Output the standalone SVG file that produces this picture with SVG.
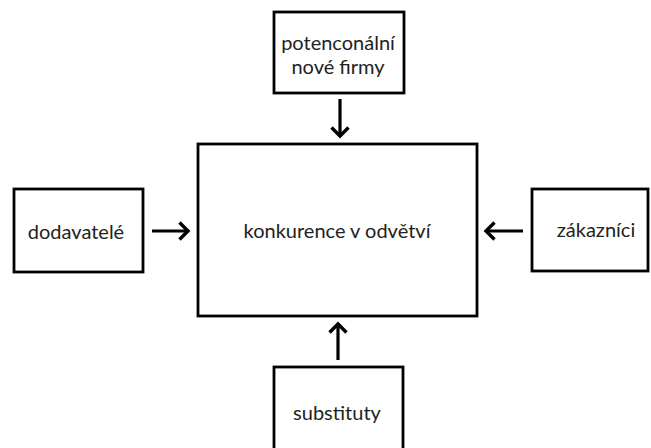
<svg xmlns="http://www.w3.org/2000/svg" width="651" height="448" viewBox="0 0 651 448">
<defs>
<style>
.box{fill:#fff;stroke:#000;stroke-width:2.8}
.lbl{font-family:Lato,"Open Sans",sans-serif;font-size:20px;fill:#222;text-anchor:middle}
.arr{stroke:#000;stroke-width:3.2;fill:none}
</style>
<marker id="head" markerUnits="userSpaceOnUse" markerWidth="24" markerHeight="24" viewBox="-12 -12 24 24" refX="0" refY="0" orient="auto">
<path d="M-8.5,-8.5 L0,0 L-8.5,8.5" fill="none" stroke="#000" stroke-width="3.4"/>
</marker>
</defs>
<rect width="651" height="448" fill="#fff"/>
<g id="center">
<rect class="box" x="198" y="144" width="279" height="172"/>
<text class="lbl" x="337" y="238">konkurence v odvětví</text>
</g>
<g id="top">
<rect class="box" x="274" y="12" width="130" height="81"/>
<text class="lbl" x="338" y="50">potenconální</text>
<text class="lbl" x="338" y="74">nové firmy</text>
</g>
<g id="left">
<rect class="box" x="14" y="189" width="129" height="83"/>
<text class="lbl" x="76" y="239">dodavatelé</text>
</g>
<g id="right">
<rect class="box" x="532" y="189" width="116" height="82"/>
<text class="lbl" x="596" y="237">zákazníci</text>
</g>
<g id="bottom">
<rect class="box" x="274" y="367" width="129" height="90"/>
<text class="lbl" x="337" y="420">substituty</text>
</g>
<g id="connectors">
<line class="arr" x1="340" y1="99" x2="340" y2="136" marker-end="url(#head)"/>
<line class="arr" x1="152" y1="231" x2="188" y2="231" marker-end="url(#head)"/>
<line class="arr" x1="523" y1="231" x2="486" y2="231" marker-end="url(#head)"/>
<line class="arr" x1="338" y1="360" x2="338" y2="324" marker-end="url(#head)"/>
</g>
</svg>
